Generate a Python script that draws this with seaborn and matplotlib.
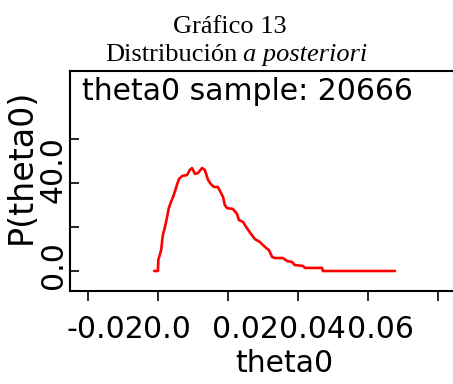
import matplotlib
matplotlib.use("Agg")
import matplotlib.pyplot as plt
import seaborn as sns
import pandas as pd
from matplotlib.ticker import FixedLocator, FixedFormatter

# ---- data ----
theta0 = [-0.0011, 0.0000, 0.0001, 0.0009, 0.0014, 0.0020, 0.0026, 0.0031, 0.0037, 0.0043,
          0.0049, 0.0054, 0.0060, 0.0069, 0.0083, 0.0091, 0.0097, 0.0106, 0.0114, 0.0126,
          0.0134, 0.0143, 0.0151, 0.0160, 0.0171, 0.0177, 0.0186, 0.0191, 0.0197, 0.0214,
          0.0226, 0.0231, 0.0243, 0.0254, 0.0266, 0.0277, 0.0291, 0.0306, 0.0317, 0.0326,
          0.0334, 0.0357, 0.0369, 0.0383, 0.0391, 0.0414, 0.0420, 0.0469, 0.0471, 0.0677]
density = [0.0, 0.0, 5.0, 9.5, 16.4, 20.0, 24.5, 28.6, 31.4, 33.6,
           36.4, 39.1, 41.8, 43.2, 43.6, 45.9, 46.8, 44.1, 44.5, 46.8,
           45.9, 41.4, 39.5, 38.2, 38.2, 36.4, 33.6, 30.0, 28.6, 28.2,
           25.9, 23.2, 22.3, 19.5, 16.8, 14.5, 13.2, 10.9, 9.5, 6.4,
           5.9, 5.9, 4.5, 4.1, 2.7, 2.3, 1.4, 1.4, 0.0, 0.0]

x_ticks = [-0.02, 0.0, 0.02, 0.04, 0.06, 0.08]
x_label_pos = [-0.0149, 0.0026, 0.0249, 0.0440, 0.0637]
x_labels = ["-0.02", "0.0", "0.02", "0.04", "0.06"]
y_ticks = [0, 20, 40, 60]
y_label_pos = [2.7, 45.9]
y_labels = ["0.0", "40.0"]

title1 = "Gráfico 13"
title2a = "Distribución"
title2b = "a posteriori"
inner_text = "theta0 sample: 20666"

df = pd.DataFrame({"theta0": theta0, "density": density})

sns.set_style("ticks")
plt.rcParams["font.family"] = ["DejaVu Sans"]
plt.rcParams["text.color"] = "black"
plt.rcParams["axes.labelcolor"] = "black"
plt.rcParams["xtick.color"] = "black"
plt.rcParams["ytick.color"] = "black"

W, H = 453, 384
fig = plt.figure(figsize=(W / 100, H / 100), dpi=100)
ax = fig.add_axes([70 / W, (H - 291) / H, 383 / W, 220 / H])

sns.lineplot(data=df, x="theta0", y="density", ax=ax, color="#ff0000",
             linewidth=1.9, estimator=None, sort=False)

ax.set_xlim(-0.02514, 0.0843)
ax.set_ylim(-9.09, 90.9)

for s in ["left", "bottom", "top"]:
    ax.spines[s].set_linewidth(1.5)
    ax.spines[s].set_color("black")
ax.spines["right"].set_visible(False)

# major ticks (marks only)
ax.xaxis.set_major_locator(FixedLocator(x_ticks))
ax.xaxis.set_major_formatter(FixedFormatter([""] * len(x_ticks)))
ax.yaxis.set_major_locator(FixedLocator(y_ticks))
ax.yaxis.set_major_formatter(FixedFormatter([""] * len(y_ticks)))
ax.tick_params(axis="x", which="major", direction="out", length=7, width=1.2, color="black")
ax.tick_params(axis="y", which="major", direction="in", length=6.5, width=1.2, color="black")

# labels (minor ticks, as placed in the reference)
ax.xaxis.set_minor_locator(FixedLocator(x_label_pos))
ax.xaxis.set_minor_formatter(FixedFormatter(x_labels))
ax.yaxis.set_minor_locator(FixedLocator(y_label_pos))
ax.yaxis.set_minor_formatter(FixedFormatter(y_labels))
ax.tick_params(axis="x", which="minor", length=0, pad=17, labelsize=21.5, labelcolor="black")
ax.tick_params(axis="y", which="minor", length=0, pad=1.5, labelsize=21.5, labelcolor="black",
               labelrotation=90)
for lab in ax.get_yticklabels(minor=True):
    lab.set_va("center")

ax.set_xlabel("theta0", fontsize=21.5, va="center", color="black")
ax.xaxis.set_label_coords((284 - 70) / 383, (291 - 364) / 220)
ax.set_ylabel("P(theta0)", fontsize=24, va="center", color="black")
ax.yaxis.set_label_coords((21 - 70) / 383, (291 - 166) / 220)

ax.text((82 - 70) / 383, (291 - 100) / 220, inner_text, transform=ax.transAxes,
        fontsize=21.5, va="baseline", ha="left", color="black")

fig.text(230 / W, 1 - 33 / H, title1, family="Liberation Serif", fontsize=19,
         ha="center", va="baseline", color="black")
fig.text(237 / W, 1 - 61 / H, title2a, family="Liberation Serif", fontsize=19,
         ha="right", va="baseline", color="black")
fig.text(243 / W, 1 - 61 / H, title2b, family="Liberation Serif", fontsize=19,
         style="italic", ha="left", va="baseline", color="black")

fig.savefig("out.png", dpi=100)
